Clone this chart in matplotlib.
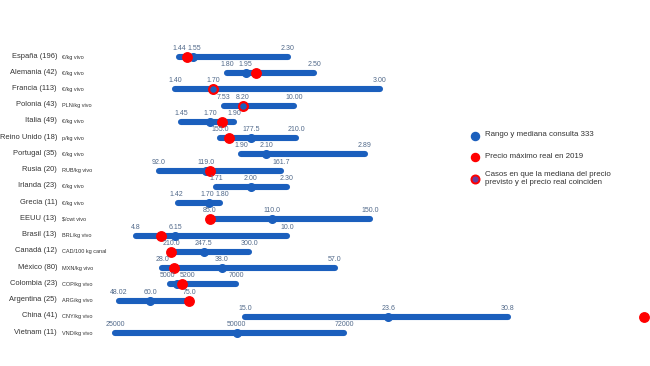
import matplotlib
matplotlib.use("Agg")
import matplotlib.pyplot as plt

# data
paises = ["España", "Alemania", "Francia", "Polonia", "Italia", "Reino Unido",
          "Portugal", "Rusia", "Irlanda", "Grecia", "EEUU", "Brasil",
          "Canadá", "México", "Colombia", "Argentina", "China", "Vietnam"]
n_resp = [196, 42, 113, 43, 49, 18, 35, 20, 23, 11, 13, 13, 12, 80, 23, 25, 41, 11]
unidades = ["€/kg vivo", "€/kg vivo", "€/kg vivo", "PLN/kg vivo", "€/kg vivo", "p/kg vivo",
            "€/kg vivo", "RUB/kg vivo", "€/kg vivo", "€/kg vivo", "$/cwt vivo", "BRL/kg vivo",
            "CAD/100 kg canal", "MXN/kg vivo", "COP/kg vivo", "ARG/kg vivo", "CNY/kg vivo", "VND/kg vivo"]
minimo = [1.44, 1.80, 1.40, 7.53, 1.45, 155.0, 1.90, 92.0, 1.71, 1.42, 85.0, 4.8,
          210.0, 28.0, 5000, 48.02, 15.0, 25000]
mediana = [1.55, 1.95, 1.70, 8.20, 1.70, 177.5, 2.10, 119.0, 2.00, 1.70, 110.0, 6.15,
           247.5, 38.0, 5200, 60.0, 23.6, 50000]
maximo = [2.30, 2.50, 3.00, 10.00, 1.90, 210.0, 2.89, 161.7, 2.30, 1.80, 150.0, 10.0,
          300.0, 57.0, 7000, 75.0, 30.8, 72000]
real_2019 = [1.50, 2.03, 1.70, 8.20, 1.80, 161.5, None, 121.0, None, None, 85.0, 5.65,
             210.0, 30.0, 5350, 75.0, 39.0, None]
etiq_min = ["1.44", "1.80", "1.40", "7.53", "1.45", "155.0", "1.90", "92.0", "1.71", "1.42",
            "85.0", "4.8", "210.0", "28.0", "5000", "48.02", "15.0", "25000"]
etiq_med = ["1.55", "1.95", "1.70", "8.20", "1.70", "177.5", "2.10", "119.0", "2.00", "1.70",
            "110.0", "6.15", "247.5", "38.0", "5200", "60.0", "23.6", "50000"]
etiq_max = ["2.30", "2.50", "3.00", "10.00", "1.90", "210.0", "2.89", "161.7", "2.30", "1.80",
            "150.0", "10.0", "300.0", "57.0", "7000", "75.0", "30.8", "72000"]

# layout: pixel span of each row's own scale (where min and max sit)
x_ini = [179, 227, 175, 224, 181, 220, 241, 159, 216, 178, 210, 136, 171, 162, 170, 119, 245, 115]
x_fin = [288, 314, 380, 294, 234, 296, 365, 281, 287, 220, 370, 287, 249, 335, 236, 189, 508, 344]
# small horizontal nudges (points) for value labels that would collide
dx_min = {14: -1.5, 9: -1}
dx_med = {14: 8, 9: -1.5, 0: 1}
dx_max = {9: 2}

W, H = 650, 366
AZUL = "#1b5fbd"
ROJO = "#ff0000"
GRIS_VAL = "#51698a"
NUM_FONT = ["Liberation Sans Narrow", "Liberation Sans"]
TXT_FONT = ["Liberation Sans", "DejaVu Sans"]

fig = plt.figure(figsize=(W / 100, H / 100), dpi=100)
fig.patch.set_facecolor("white")

y0, paso = 57, 16.24
for i in range(len(paises)):
    yc = y0 + i * paso
    ax = fig.add_axes([x_ini[i] / W, 1 - (yc + 5) / H, (x_fin[i] - x_ini[i]) / W, 10 / H])
    ax.set_xlim(minimo[i], maximo[i])
    ax.set_ylim(-1, 1)
    ax.axis("off")

    ax.plot([minimo[i], maximo[i]], [0, 0], color=AZUL, lw=4.4,
            solid_capstyle="round", clip_on=False, zorder=1)
    r = real_2019[i]
    if r is not None and abs(r - mediana[i]) < 1e-9:
        ax.plot(mediana[i], 0, "o", ms=6.3, mfc=AZUL, mec=ROJO, mew=1.6, clip_on=False, zorder=3)
    else:
        ax.plot(mediana[i], 0, "o", ms=5.5, color=AZUL, clip_on=False, zorder=2)
        if r is not None:
            ax.plot(r, 0, "o", ms=6.8, color=ROJO, clip_on=False, zorder=3)

    for v, s, dx in [(minimo[i], etiq_min[i], dx_min.get(i, 0)),
                     (mediana[i], etiq_med[i], dx_med.get(i, 0)),
                     (maximo[i], etiq_max[i], dx_max.get(i, 0))]:
        ax.annotate(s, (v, 0), xytext=(dx, 3.6), textcoords="offset points",
                    ha="center", va="bottom", fontsize=5, color=GRIS_VAL,
                    family=NUM_FONT, annotation_clip=False)

    fig.text(57 / W, 1 - (yc - 1) / H, f"{paises[i]} ({n_resp[i]})", ha="right", va="center",
             fontsize=5.4, color="#333333", family=TXT_FONT)
    fig.text(62 / W, 1 - yc / H, unidades[i], ha="left", va="center",
             fontsize=4, color="#333333", family=TXT_FONT)

# legend
leg = fig.add_axes([0, 0, 1, 1])
leg.set_xlim(0, W)
leg.set_ylim(H, 0)
leg.axis("off")
leg.plot(475, 136, "o", ms=5.8, color=AZUL)
leg.plot(475, 157, "o", ms=5.8, color=ROJO)
leg.plot(475, 179, "o", ms=5.8, mfc="#6a3d9a", mec=ROJO, mew=1.4)
kw = dict(ha="left", va="center", fontsize=5.7, color="#333333", family=TXT_FONT)
leg.text(485, 135, "Rango y mediana consulta 333", **kw)
leg.text(485, 157, "Precio máximo real en 2019", **kw)
leg.text(485, 178.5, "Casos en que la mediana del precio\nprevisto y el precio real coinciden",
         linespacing=1.15, **kw)

fig.savefig("out.png", dpi=100, facecolor="white")
